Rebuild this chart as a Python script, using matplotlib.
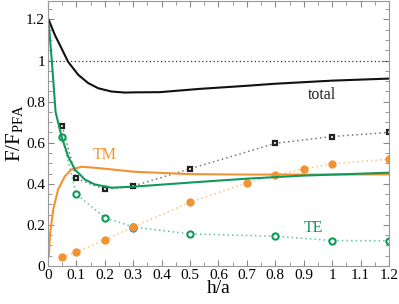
import numpy as np
import matplotlib
matplotlib.use("Agg")
import matplotlib.pyplot as plt
from matplotlib.ticker import MultipleLocator

plt.rcParams['font.family'] = ['Liberation Serif', 'DejaVu Serif']
plt.rcParams['mathtext.fontset'] = 'custom'
plt.rcParams['mathtext.rm'] = 'Liberation Serif'
plt.rcParams['mathtext.it'] = 'Liberation Serif'

# solid curves
total_x = [0, 0.0035, 0.025, 0.048, 0.071, 0.107, 0.142, 0.177, 0.224, 0.271, 0.306, 0.394, 0.535, 0.7, 0.8, 1.0, 1.2]
total_y = [1.205, 1.196, 1.123, 1.059, 0.994, 0.93, 0.89, 0.865, 0.849, 0.844, 0.845, 0.846, 0.862, 0.877, 0.887, 0.902, 0.912]

te_x = [0, 0.0035, 0.015, 0.027, 0.048, 0.071, 0.095, 0.13, 0.165, 0.224, 0.3, 0.4, 0.5, 0.7, 0.9, 1.2]
te_y = [1.19, 1.172, 0.978, 0.75, 0.631, 0.534, 0.47, 0.421, 0.397, 0.381, 0.386, 0.396, 0.406, 0.425, 0.44, 0.454]

tm_x = [0, 0.0035, 0.007, 0.019, 0.036, 0.06, 0.083, 0.119, 0.165, 0.224, 0.3, 0.5, 0.7, 1.0, 1.2]
tm_y = [0.035, 0.05, 0.147, 0.276, 0.373, 0.437, 0.47, 0.483, 0.478, 0.47, 0.459, 0.447, 0.445, 0.445, 0.446]

# dotted data with markers
sq_x = [0.05, 0.1, 0.2, 0.3, 0.5, 0.8, 1.0, 1.2]
sq_y = [0.683, 0.426, 0.373, 0.389, 0.473, 0.597, 0.63, 0.65]

circ_x = [0.05, 0.1, 0.2, 0.3, 0.5, 0.8, 1.0, 1.2]
circ_y = [0.626, 0.35, 0.236, 0.19, 0.156, 0.145, 0.124, 0.123]

dot_x = [0.05, 0.1, 0.2, 0.3, 0.5, 0.7, 0.8, 0.9, 1.0, 1.2]
dot_y = [0.045, 0.068, 0.127, 0.19, 0.31, 0.405, 0.442, 0.473, 0.497, 0.52]

green = '#12995a'
orange = '#f39230'

fig = plt.figure(figsize=(3.99, 3.04), dpi=100)
ax = fig.add_axes([0.12, 0.125, 0.855, 0.872])

ax.axhline(1.0, color='#333333', ls=(0, (1, 2)), lw=0.9)

ax.plot(sq_x, sq_y, ls=(0, (1, 2)), color='#777777', lw=1.1,
        marker='s', ms=3.3, mfc='white', mec='#222222', mew=1.6)
ax.plot(circ_x, circ_y, ls=(0, (1, 2)), color='#5fc49a', lw=1.1,
        marker='o', ms=4.5, mfc='white', mec=green, mew=1.5)
ax.plot([0.3], [0.185], marker='o', ms=5, color='#3b7dc4', ls='none')
ax.plot(dot_x, dot_y, ls=(0, (1, 2)), color='#f8c28a', lw=1.1,
        marker='o', ms=5, mfc=orange, mec=orange)

ax.plot(total_x, total_y, color='#111111', lw=1.5)
ax.plot(tm_x, tm_y, color=orange, lw=1.5)
ax.plot(te_x, te_y, color=green, lw=1.5)

ax.text(0.2, 0.54, 'TM', color=orange, fontsize=11.5, ha='center', va='center')
ax.text(0.933, 0.184, 'TE', color=green, fontsize=11.5, ha='center', va='center')
ax.text(0.964, 0.83, 'total', color='#222222', fontsize=11.5, ha='center', va='center')

ax.set_xlim(0, 1.2)
ax.set_ylim(0, 1.29)
ax.xaxis.set_minor_locator(MultipleLocator(0.05))
ax.yaxis.set_minor_locator(MultipleLocator(0.05))
ax.set_xticks(np.arange(0, 1.21, 0.1))
ax.set_xticklabels(['0', '0.1', '0.2', '0.3', '0.4', '0.5', '0.6', '0.7', '0.8', '0.9', '1', '1.1', '1.2'])
ax.set_yticks([0, 0.2, 0.4, 0.6, 0.8, 1.0, 1.2])
ax.set_yticklabels(['0', '0.2', '0.4', '0.6', '0.8', '1', '1.2'])
ax.tick_params(which='both', direction='in', top=True, right=True, color='#888888',
               labelsize=11, pad=2)
ax.tick_params(which='major', length=4)
ax.tick_params(which='minor', length=3)
for s in ax.spines.values():
    s.set_color('#999999')
    s.set_linewidth(0.8)

ax.set_xlabel('h/a', fontsize=14, labelpad=-1)
ax.set_ylabel('F/F$_{\\mathrm{PFA}}$', fontsize=15, labelpad=1)

fig.savefig('out.png', dpi=100)
